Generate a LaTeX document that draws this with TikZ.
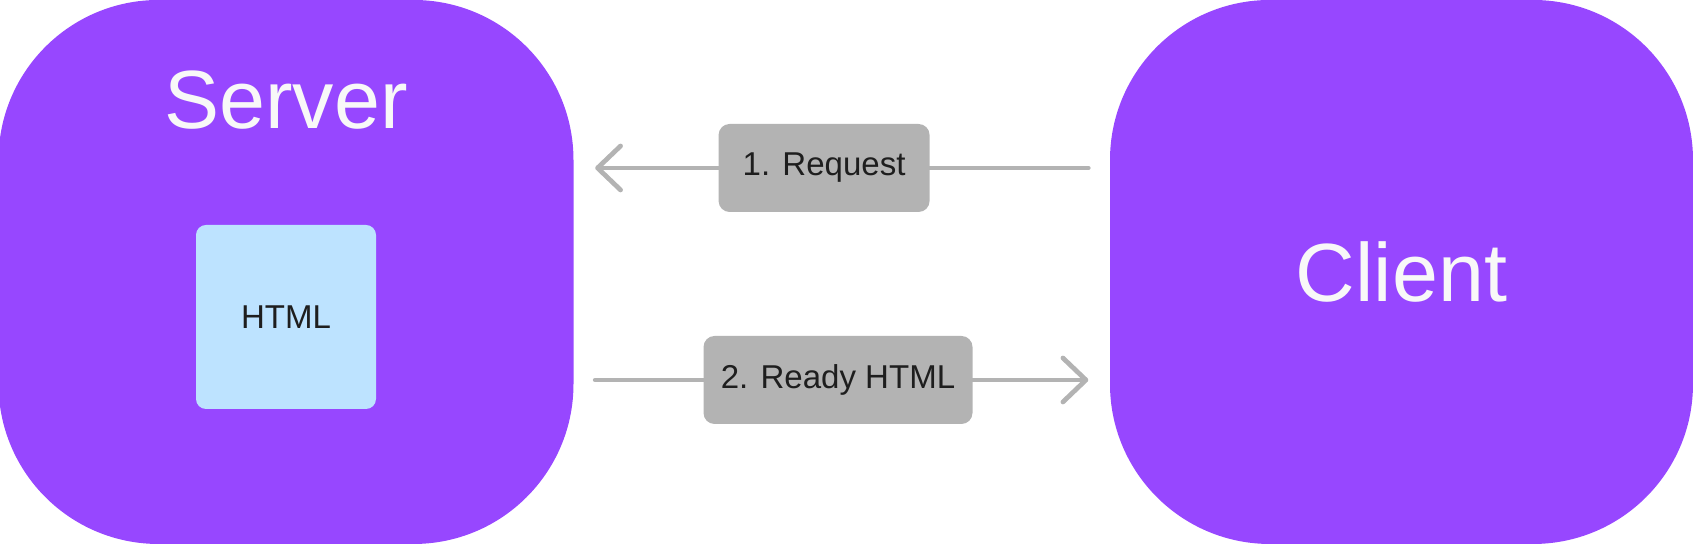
\documentclass[tikz,border=0pt]{standalone}
\usepackage{fontspec}
\setmainfont{Liberation Sans}
\usetikzlibrary{arrows.meta}
\definecolor{hostpurple}{HTML}{9747FF}
\definecolor{pagecyan}{HTML}{BDE3FF}
\definecolor{msggray}{HTML}{B3B3B3}
\definecolor{inkdark}{HTML}{1E1E1E}
\definecolor{titlewhite}{HTML}{F8F8F8}

\begin{document}
\begin{tikzpicture}[
  host/.style={fill=hostpurple,rounded corners=1.6cm,minimum width=5.75cm,minimum height=5.44cm,inner sep=0pt,text=titlewhite,font=\fontsize{23.5}{28}\selectfont},
  title/.style={text=titlewhite,font=\fontsize{23.5}{28}\selectfont,inner sep=0pt},
  page/.style={fill=pagecyan,rounded corners=0.1cm,minimum width=1.8cm,minimum height=1.84cm,text=inkdark,font=\fontsize{9.4}{11}\selectfont},
  tag/.style={fill=msggray,rounded corners=0.11cm,minimum height=0.88cm,inner sep=0pt,text=inkdark,font=\fontsize{9.4}{11}\selectfont},
  flow/.style={draw=msggray,line width=1.35pt,line cap=round,shorten >=2.1mm,shorten <=2.1mm,-{Straight Barb[length=2.3mm,width=4.4mm,round]}}
]
\useasboundingbox (0,0) rectangle (16.93,5.44);
\node[host] (server) at (2.86,2.72) {};
\node[host,minimum width=5.83cm] (client) at (14.015,2.72) {Client};
\node[title] (servertitle) at (2.86,4.44) {Server};
\node[page] (html) at (2.86,2.27) {HTML};
\coordinate (requesty) at (0,3.76);
\coordinate (readyy) at (0,1.64);
\draw[flow] (client.west |- requesty) -- node[tag,pos=0.533,minimum width=2.11cm] (request) {1. Request} (server.east |- requesty);
\draw[flow] (server.east |- readyy) -- node[tag,pos=0.493,minimum width=2.69cm] (ready) {2. Ready HTML} (client.west |- readyy);
\end{tikzpicture}
\end{document}
